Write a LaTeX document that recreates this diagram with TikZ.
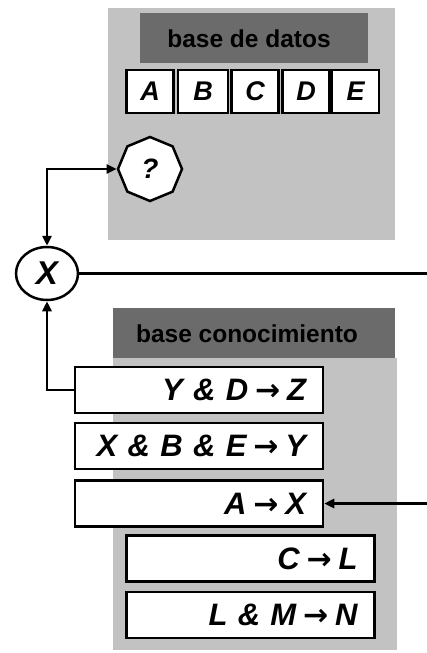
\documentclass[tikz,border=0pt]{standalone}
\usepackage{fontspec}
\setmainfont{Liberation Sans}
\newfontfamily\arrowfont{DejaVu Sans}
\usetikzlibrary{shapes.geometric,arrows.meta}

\definecolor{panelgray}{gray}{0.76}
\definecolor{headgray}{gray}{0.42}

\newcommand{\imp}{\hspace{0.22em}{\arrowfont\fontsize{30}{30}\selectfont\char"2192}\hspace{0.22em}}

\tikzset{
  panel/.style={fill=panelgray, draw=none},
  header/.style={fill=headgray, draw=none},
  headtext/.style={font=\fontsize{24.5}{24.5}\selectfont\bfseries, text=black},
  rulebox/.style={draw, line width=2.5pt, fill=white, minimum height=46pt,
    text width=214pt, inner xsep=17pt, inner ysep=0pt, align=right,
    font=\fontsize{31}{31}\selectfont\bfseries\itshape},
  factbox/.style={draw, line width=2.5pt, fill=white, minimum height=43pt,
    minimum width=47pt, inner sep=0pt,
    font=\fontsize{27}{27}\selectfont\bfseries\itshape},
  link/.style={line width=2.5pt},
  tip/.style={-{Triangle[length=10pt,width=9pt]}}
}

\begin{document}
\begin{tikzpicture}[x=1pt,y=-1pt]
  \useasboundingbox (0,0) rectangle (427,653);

  % data base panel
  \fill[panel] (108,8) rectangle (395,240);
  \fill[header] (140,13) rectangle (368,63);
  \node[headtext] (dbtitle) at (249,39) {base de datos};

  \node[factbox] (fa) at (150,91.5) {A};
  \node[factbox, minimum width=50pt] (fb) at (203,91.5) {B};
  \node[factbox] (fc) at (255,91.5) {C};
  \node[factbox] (fd) at (306,91.5) {D};
  \node[factbox] (fe) at (355.5,91.5) {E};

  % knowledge base panel
  \fill[header] (113,308) rectangle (395,358);
  \fill[panel] (113,358) rectangle (397,650);
  \node[headtext] (kbtitle) at (247,334) {base conocimiento};

  \node[rulebox] (r1) at (199,390) {Y \& D\imp Z};
  \node[rulebox] (r2) at (199,446) {X \& B \& E\imp Y};
  \node[rulebox] (r3) at (199,503.5) {A\imp X};
  \node[rulebox] (r4) at (250.5,558.5) {C\imp L};
  \node[rulebox] (r5) at (250.5,615) {L \& M\imp N};

  % goal and query nodes
  \node[draw, line width=2.5pt, fill=white, ellipse, minimum width=62pt,
    minimum height=53pt, inner sep=0pt,
    font=\fontsize{33}{33}\selectfont\bfseries\itshape] (goal) at (47,273.5) {X};
  \node[draw, line width=2.5pt, fill=white, regular polygon, regular polygon sides=8,
    shape border rotate=22.5, minimum size=64pt, inner sep=0pt,
    font=\fontsize{28}{28}\selectfont\bfseries\itshape] (query) at (150,169) {?};

  % connectors
  \coordinate (qcorner) at (goal.north |- query.west);
  \draw[link, {Triangle[length=10pt,width=9pt]}-{Triangle[length=10pt,width=9pt]}]
    (goal.north) -- (qcorner) -- (query.west);
  \coordinate (rcorner) at (goal.south |- r1.west);
  \draw[link, tip] (r1.west) -- (rcorner) -- (goal.south);
  \coordinate (outend) at (427,273.5);
  \draw[link] (goal.east) -- (outend);
  \coordinate (inend) at (427,503.5);
  \draw[link, tip] (inend) -- (r3.east);
\end{tikzpicture}
\end{document}
